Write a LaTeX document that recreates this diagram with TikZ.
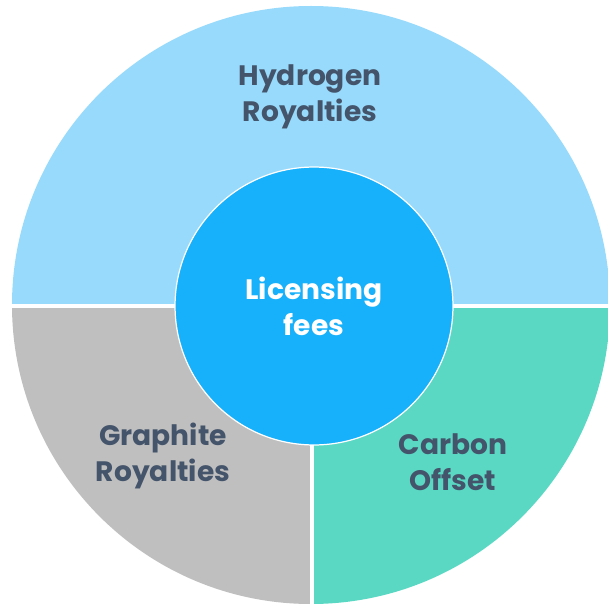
\documentclass[tikz,border=0pt]{standalone}
\usepackage{fontspec}
\setmainfont{Poppins}
\usetikzlibrary{positioning,calc}
\definecolor{hydrogenblue}{RGB}{151,218,251}
\definecolor{graphitegrey}{RGB}{191,191,191}
\definecolor{carbonteal}{RGB}{90,216,196}
\definecolor{licenseblue}{RGB}{23,176,250}
\definecolor{labelslate}{RGB}{68,84,106}

\begin{document}
\begin{tikzpicture}[
    x=0.02cm, y=0.02cm,
    segment/.style={draw=none},
    gap/.style={white, line width=0.08cm},
    label/.style={font=\fontsize{16}{20.5}\selectfont\bfseries, text=labelslate, align=center},
    hub/.style={circle, fill=licenseblue, draw=white, line width=0.7pt, minimum size=5.56cm, inner sep=0pt,
        font=\fontsize{16}{20.5}\selectfont\bfseries, text=white, align=center}
]

% Page frame
\useasboundingbox (-311,-300) rectangle (297,305);

% Outer ring segments
\fill[segment, hydrogenblue] (299,0) arc (0:180:299) -- cycle;
\fill[segment, graphitegrey] (0,0) -- (-299,0) arc (180:270:299) -- cycle;
\fill[segment, carbonteal] (0,0) -- (0,-299) arc (270:360:299) -- cycle;

% Gaps between segments
\draw[gap] (-305,-1) -- (305,-1);
\draw[gap] (1,-1) -- (1,-305);

% Centre
\node[hub] (fees) at (3,-1) {Licensing\\fees};

% Segment labels
\node[label] (hydrogen) at (-1,208) {Hydrogen\\Royalties};
\node[label] (graphite) at (-148,-151) {Graphite\\Royalties};
\node[label] (carbon) at (142,-157) {Carbon\\Offset};

\end{tikzpicture}
\end{document}
